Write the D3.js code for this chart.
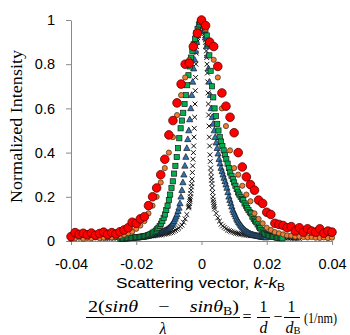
<!DOCTYPE html>
<html>
<head>
<meta charset="utf-8">
<script src="https://cdn.jsdelivr.net/npm/d3@7"></script>
<style>
  html, body { margin: 0; padding: 0; background: #fff; }
  svg { display: block; }
</style>
</head>
<body>
<svg id="chart" width="350" height="335"></svg>
<script>
// Rocking-curve scans: normalized intensity vs scattering vector k - kB (1/nm).
// Each scan is sampled on a uniform k grid (start, step) with the measured intensities.

const xTicks = [-0.04, -0.02, 0, 0.02, 0.04];
const yTicks = [0, 0.2, 0.4, 0.6, 0.8, 1];

// Broadest scan (red circles)
const redStart = -0.04, redStep = 0.00125;
const redIntensity = [
  0.020,0.038,0.030,0.035,0.028,0.036,0.026,0.034,0.040,0.030,
  0.038,0.032,0.042,0.050,0.060,0.085,0.080,0.100,0.110,0.160,
  0.200,0.240,0.300,0.370,0.480,0.545,0.625,0.710,0.800,0.805,
  0.880,0.940,1.000,0.975,0.900,0.880,0.790,0.670,0.610,0.560,
  0.490,0.400,0.335,0.290,0.255,0.230,0.185,0.170,0.130,0.120,
  0.080,0.075,0.070,0.060,0.065,0.045,0.060,0.040,0.055,0.045,
  0.040,0.055,0.035,0.045,0.040
];

// Orange circles
const orangeStart = -0.04, orangeStep = 0.00125;
const orangeIntensity = [
  0.010,0.012,0.015,0.010,0.014,0.012,0.016,0.013,0.015,0.018,
  0.016,0.020,0.022,0.028,0.035,0.042,0.055,0.070,0.090,0.125,
  0.160,0.200,0.265,0.330,0.400,0.470,0.570,0.660,0.740,0.820,
  0.880,0.950,0.990,0.960,0.900,0.820,0.740,0.600,0.520,0.410,
  0.330,0.300,0.250,0.210,0.180,0.125,0.100,0.080,0.060,0.050,
  0.040,0.035,0.030,0.025,0.024,0.020,0.020,0.018,0.016,0.018,
  0.015,0.014,0.016,0.013,0.015
];

// Green squares
const greenStart = -0.0248, greenStep = 0.0004;
const greenIntensity = [
  0.010,0.010,0.011,0.011,0.012,0.012,0.013,0.013,0.014,0.014,
  0.015,0.016,0.017,0.017,0.018,0.019,0.019,0.020,0.021,0.022,
  0.024,0.026,0.028,0.031,0.034,0.038,0.042,0.047,0.053,0.060,
  0.068,0.078,0.090,0.105,0.120,0.140,0.160,0.185,0.210,0.240,
  0.270,0.305,0.340,0.380,0.420,0.465,0.510,0.545,0.580,0.620,
  0.660,0.705,0.750,0.790,0.830,0.860,0.890,0.915,0.940,0.960,
  0.980,0.990,
  1.000,
  0.990,0.980,0.955,0.930,0.890,0.840,0.770,0.700,0.650,0.600,
  0.565,0.530,0.500,0.470,0.450,0.430,0.410,0.390,0.370,0.350,
  0.330,0.310,0.295,0.280,0.265,0.250,0.235,0.220,0.210,0.200,
  0.190,0.185,0.170,0.160,0.150,0.140,0.130,0.125,0.110,0.100,
  0.092,0.085,0.075,0.065,0.058,0.050,0.042,0.035,0.031,0.028,
  0.026,0.024,0.022,0.020,0.019,0.018,0.017,0.015,0.014,0.013,
  0.013,0.012
];

// Blue triangles
const blueStart = -0.0198, blueStep = 0.0003;
const blueIntensity = [
  0.015,0.016,0.016,0.017,0.018,0.018,0.019,0.020,0.020,0.021,
  0.022,0.023,0.024,0.025,0.026,0.027,0.028,0.029,0.030,0.031,
  0.032,0.034,0.035,0.037,0.038,0.040,0.042,0.044,0.046,0.048,
  0.050,0.053,0.056,0.060,0.064,0.069,0.075,0.082,0.090,0.100,
  0.110,0.120,0.135,0.150,0.170,0.200,0.230,0.265,0.300,0.340,
  0.380,0.420,0.460,0.500,0.550,0.600,0.660,0.720,0.780,0.820,
  0.860,0.900,0.930,0.960,0.980,0.990,
  1.000,
  0.990,0.970,0.950,0.920,0.880,0.840,0.780,0.720,0.660,0.600,
  0.560,0.530,0.500,0.470,0.445,0.420,0.395,0.370,0.350,0.330,
  0.315,0.300,0.285,0.270,0.255,0.240,0.220,0.200,0.185,0.170,
  0.155,0.140,0.130,0.120,0.110,0.100,0.092,0.085,0.078,0.072,
  0.066,0.060,0.055,0.050,0.046,0.043,0.040,0.037,0.034,0.032,
  0.030,0.029,0.027,0.026,0.025,0.024,0.023,0.022,0.021,0.020,
  0.019,0.018,0.018,0.017,0.016,0.016
];

// Narrowest scan (black crosses): coarse wings and a finely stepped core
const blackWingLeftStart = -0.03, blackWingStep = 0.0005;
const blackWingLeft = [
  0.012,0.012,0.013,0.013,0.013,0.013,0.014,0.014,0.014,0.014,
  0.014,0.015,0.015,0.015,0.016,0.016,0.016,0.017,0.017,0.018,
  0.018,0.018,0.019,0.019,0.020,0.020,0.021,0.021,0.022,0.023,
  0.023,0.024,0.025,0.026,0.027,0.028,0.029,0.031,0.032,0.034,
  0.035,0.038,0.040,0.044,0.048,0.053,0.058,0.065,0.072,0.085,
  0.100,0.120
];
const blackCoreStart = -0.004, blackCoreStep = 0.0001;
const blackCore = [
  0.150,0.155,0.160,0.170,0.180,0.190,0.200,0.215,0.230,0.245,
  0.260,0.280,0.310,0.340,0.370,0.400,0.430,0.470,0.510,0.560,
  0.620,0.680,0.740,0.800,0.850,0.880,0.900,0.910,0.920,0.930,
  0.940,0.950,0.960,0.960,0.970,0.980,0.980,0.990,0.990,1.000,
  1.000,
  1.000,0.990,0.990,0.980,0.970,0.970,0.960,0.950,0.940,0.930,
  0.920,0.910,0.900,0.880,0.860,0.830,0.800,0.760,0.720,0.670,
  0.620,0.570,0.520,0.470,0.430,0.390,0.360,0.330,0.310,0.290,
  0.275,0.260,0.240,0.220,0.200,0.185,0.175,0.165,0.155,0.145
];
const blackWingRightStart = 0.0045;
const blackWingRight = [
  0.125,0.105,0.090,0.076,0.068,0.062,0.056,0.050,0.047,0.044,
  0.041,0.038,0.036,0.034,0.032,0.031,0.030,0.029,0.027,0.026,
  0.025,0.024,0.024,0.023,0.022,0.022,0.021,0.021,0.020,0.020,
  0.019,0.019,0.018,0.018,0.017,0.017,0.016,0.016,0.016,0.015,
  0.015,0.015,0.014,0.014,0.014,0.013,0.013,0.013,0.012,0.012,
  0.012,0.012
];

function scan(start, step, values) {
  return values.map((v, i) => ({ k: start + i * step, v }));
}

const svg = d3.select("#chart");
const x = d3.scaleLinear().domain([-0.04, 0.04]).range([71, 332]);
const y = d3.scaleLinear().domain([0, 1]).range([241, 20]);
const axisColor = "#898989";
const sans = "Liberation Sans, Arial, sans-serif";
const serif = "Liberation Serif, Times New Roman, DejaVu Serif, serif";

// Axes
const yAxis = svg.append("g")
  .attr("transform", `translate(${x(-0.04)},0)`)
  .call(d3.axisLeft(y).tickValues(yTicks).tickSize(5).tickSizeOuter(0).tickPadding(11)
    .tickFormat(d => (d === 0 || d === 1) ? String(d) : d.toFixed(1)));
const xAxis = svg.append("g")
  .attr("transform", `translate(0,${y(0)})`)
  .call(d3.axisBottom(x).tickValues(xTicks).tickSize(4).tickSizeOuter(0).tickPadding(14)
    .tickFormat(d => d === 0 ? "0" : d.toFixed(2)));
[yAxis, xAxis].forEach(g => {
  g.attr("font-family", sans).attr("font-size", 14.5);
  g.select(".domain").attr("stroke", axisColor).attr("stroke-width", 1);
  g.selectAll(".tick line").attr("stroke", axisColor);
  g.selectAll(".tick text").attr("fill", "#000");
});

// Marker layers, drawn from the narrowest scan up to the broadest
const plot = svg.append("g");

const black = scan(blackWingLeftStart, blackWingStep, blackWingLeft)
  .concat(scan(blackCoreStart, blackCoreStep, blackCore))
  .concat(scan(blackWingRightStart, blackWingStep, blackWingRight));
plot.append("g").selectAll("path").data(black).join("path")
  .attr("transform", d => `translate(${x(d.k)},${y(d.v)})`)
  .attr("d", "M-2.4,-2.4L2.4,2.4M-2.4,2.4L2.4,-2.4")
  .attr("stroke", "#111").attr("stroke-width", 1).attr("fill", "none");

plot.append("g").selectAll("path").data(scan(blueStart, blueStep, blueIntensity)).join("path")
  .attr("transform", d => `translate(${x(d.k)},${y(d.v)})`)
  .attr("d", "M0,-3.4L3.1,2.3L-3.1,2.3Z")
  .attr("fill", "#2f75b5").attr("stroke", "#1a1a1a").attr("stroke-width", 0.7);

plot.append("g").selectAll("rect").data(scan(greenStart, greenStep, greenIntensity)).join("rect")
  .attr("x", d => x(d.k) - 2.6).attr("y", d => y(d.v) - 2.6)
  .attr("width", 5.2).attr("height", 5.2)
  .attr("fill", "#00b050").attr("stroke", "#1a1a1a").attr("stroke-width", 0.7);

plot.append("g").selectAll("circle").data(scan(orangeStart, orangeStep, orangeIntensity)).join("circle")
  .attr("cx", d => x(d.k)).attr("cy", d => y(d.v)).attr("r", 2.6)
  .attr("fill", "#ed7d31").attr("stroke", "#3a2a1a").attr("stroke-width", 0.7);

plot.append("g").selectAll("circle").data(scan(redStart, redStep, redIntensity)).join("circle")
  .attr("cx", d => x(d.k)).attr("cy", d => y(d.v)).attr("r", 4.3)
  .attr("fill", "#ff0000").attr("stroke", "#5a0000").attr("stroke-width", 0.8);

// Axis titles
svg.append("text")
  .attr("transform", "translate(21.5,126.5) rotate(-90)")
  .attr("text-anchor", "middle")
  .attr("font-family", serif).attr("font-size", 17)
  .attr("textLength", 153).attr("lengthAdjust", "spacingAndGlyphs")
  .text("Normalized Intensity");

const xt = svg.append("text")
  .attr("x", 116).attr("y", 288)
  .attr("font-family", sans).attr("font-size", 14.5)
  .attr("textLength", 169).attr("lengthAdjust", "spacingAndGlyphs");
xt.append("tspan").text("Scattering vector, ");
xt.append("tspan").attr("font-style", "italic").text("k");
xt.append("tspan").text("-");
xt.append("tspan").attr("font-style", "italic").text("k");
xt.append("tspan").attr("dy", 3).attr("font-size", 10).text("B");

// Defining relation under the axis title
const num = svg.append("text")
  .attr("x", 88).attr("y", 312)
  .attr("font-family", serif).attr("font-size", 17.5)
  .attr("textLength", 151).attr("lengthAdjust", "spacingAndGlyphs");
num.append("tspan").text("2(");
num.append("tspan").attr("font-style", "italic").text("sinθ");
num.append("tspan").text("\u2003−\u2003");
num.append("tspan").attr("font-style", "italic").text("sinθ");
num.append("tspan").attr("dy", 3).attr("font-size", 12).text("B");
num.append("tspan").attr("dy", -3).text(")");

svg.append("line").attr("x1", 86).attr("x2", 240).attr("y1", 317.5).attr("y2", 317.5)
  .attr("stroke", "#000").attr("stroke-width", 1);
svg.append("text").attr("x", 163).attr("y", 334).attr("text-anchor", "middle")
  .attr("font-family", serif).attr("font-size", 16).attr("font-style", "italic").text("λ");

svg.append("text").attr("x", 247).attr("y", 322).attr("text-anchor", "middle")
  .attr("font-family", serif).attr("font-size", 16).text("=");

svg.append("text").attr("x", 263.5).attr("y", 312).attr("text-anchor", "middle")
  .attr("font-family", serif).attr("font-size", 16).text("1");
svg.append("line").attr("x1", 257).attr("x2", 270).attr("y1", 317.5).attr("y2", 317.5)
  .attr("stroke", "#000").attr("stroke-width", 1);
svg.append("text").attr("x", 263.5).attr("y", 333).attr("text-anchor", "middle")
  .attr("font-family", serif).attr("font-size", 16).attr("font-style", "italic").text("d");

svg.append("text").attr("x", 278).attr("y", 322).attr("text-anchor", "middle")
  .attr("font-family", serif).attr("font-size", 16).text("−");

svg.append("text").attr("x", 291.5).attr("y", 312).attr("text-anchor", "middle")
  .attr("font-family", serif).attr("font-size", 16).text("1");
svg.append("line").attr("x1", 284).attr("x2", 300).attr("y1", 317.5).attr("y2", 317.5)
  .attr("stroke", "#000").attr("stroke-width", 1);
const dB = svg.append("text").attr("x", 285.5).attr("y", 333)
  .attr("font-family", serif).attr("font-size", 16);
dB.append("tspan").attr("font-style", "italic").text("d");
dB.append("tspan").attr("dy", 1).attr("font-size", 10.5).text("B");

svg.append("text").attr("x", 304).attr("y", 323)
  .attr("font-family", serif).attr("font-size", 14)
  .attr("textLength", 33).attr("lengthAdjust", "spacingAndGlyphs")
  .text("(1/nm)");
</script>
</body>
</html>
